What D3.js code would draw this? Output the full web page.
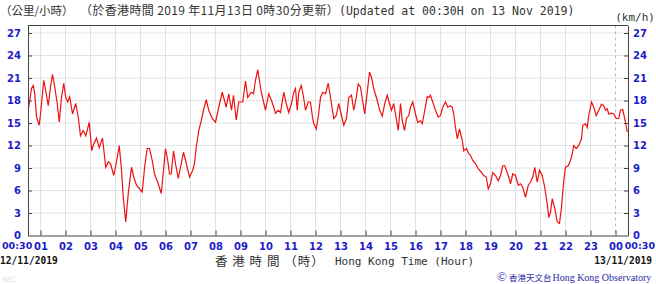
<!doctype html>
<html>
<head>
<meta charset="utf-8">
<title>Hong Kong wind speed 12-13 Nov 2019</title>
<script src="https://d3js.org/d3.v7.min.js"></script>
<style>
  body { margin: 0; background: #fff; }
  svg { display: block; }
</style>
</head>
<body>
<svg id="chart" width="656" height="284"></svg>
<script>
// Data: clock hour (0.5 = 00:30 on 12/11, 24.5 = 00:30 on 13/11) and speed (km/h)
const hours = [
  0.51, 0.64, 0.71, 0.77, 0.84, 0.95, 1.00, 1.13, 1.21, 1.31, 1.40, 1.48, 1.57, 1.67, 1.75, 1.84, 1.93,
  2.01, 2.09, 2.17, 2.28, 2.41, 2.51, 2.60, 2.71, 2.81, 2.95, 3.05, 3.13, 3.24, 3.35, 3.48, 3.61, 3.71,
  3.80, 3.93, 4.07, 4.15, 4.24, 4.31, 4.41, 4.51, 4.64, 4.73, 4.84, 4.97, 5.07, 5.17, 5.27, 5.36, 5.47,
  5.56, 5.69, 5.83, 5.92, 6.00, 6.09, 6.16, 6.23, 6.32, 6.40, 6.51, 6.63, 6.72, 6.83, 6.96, 7.09, 7.16,
  7.23, 7.33, 7.43, 7.52, 7.63, 7.73, 7.87, 8.00, 8.13, 8.27, 8.36, 8.43, 8.53, 8.64, 8.72, 8.83, 8.93,
  9.09, 9.20, 9.29, 9.43, 9.52, 9.60, 9.69, 9.83, 10.00, 10.13, 10.24, 10.33, 10.40, 10.51, 10.60, 10.73,
  10.83, 10.93, 11.04, 11.13, 11.20, 11.27, 11.33, 11.43, 11.51, 11.60, 11.71, 11.80, 11.87, 11.93, 12.03,
  12.11, 12.20, 12.29, 12.40, 12.51, 12.60, 12.73, 12.83, 12.93, 13.04, 13.13, 13.24, 13.33, 13.44, 13.53,
  13.63, 13.71, 13.80, 13.89, 13.97, 14.07, 14.16, 14.24, 14.33, 14.47, 14.57, 14.67, 14.77, 14.87, 14.96,
  15.04, 15.13, 15.23, 15.31, 15.40, 15.47, 15.56, 15.64, 15.73, 15.80, 15.89, 16.00, 16.09, 16.20, 16.27,
  16.37, 16.47, 16.53, 16.60, 16.71, 16.80, 16.91, 17.00, 17.09, 17.20, 17.29, 17.40, 17.47, 17.53, 17.60,
  17.67, 17.76, 17.87, 17.93, 18.04, 18.13, 18.20, 18.29, 18.40, 18.51, 18.64, 18.73, 18.83, 18.91, 19.00,
  19.09, 19.20, 19.31, 19.40, 19.49, 19.57, 19.71, 19.80, 19.89, 20.00, 20.11, 20.20, 20.29, 20.40, 20.51,
  20.60, 20.69, 20.77, 20.87, 20.96, 21.07, 21.17, 21.27, 21.33, 21.40, 21.47, 21.57, 21.67, 21.76, 21.84,
  21.93, 22.00, 22.11, 22.20, 22.27, 22.33, 22.43, 22.53, 22.64, 22.69, 22.80, 22.87, 22.93, 23.04, 23.13,
  23.23, 23.33, 23.44, 23.53, 23.60, 23.67, 23.73, 23.84, 23.93, 24.03, 24.13, 24.20, 24.29, 24.40, 24.47
];
const speeds = [
  16.7, 19.6, 20.0, 18.9, 15.8, 14.7, 16.2, 20.7, 19.3, 17.3, 19.8, 21.5, 19.8, 17.6, 15.1, 18.4, 20.3,
  18.4, 17.8, 18.5, 16.2, 17.6, 15.8, 13.3, 14.0, 13.3, 15.1, 11.3, 12.2, 13.0, 11.7, 13.0, 9.1, 9.8,
  9.6, 8.0, 10.4, 12.0, 8.7, 5.1, 1.8, 5.6, 9.1, 7.8, 6.7, 6.2, 5.8, 9.3, 11.6, 11.6, 10.0,
  8.2, 7.1, 5.6, 8.7, 11.6, 10.0, 8.2, 8.2, 11.3, 9.6, 7.6, 9.6, 11.1, 9.6, 7.8, 8.7, 9.6,
  11.8, 14.0, 15.3, 16.7, 18.1, 16.7, 15.6, 15.1, 17.1, 19.1, 18.0, 17.1, 18.9, 16.7, 18.7, 15.4, 17.8,
  17.8, 20.6, 18.4, 19.1, 18.9, 20.7, 22.1, 19.1, 16.7, 18.9, 18.0, 17.1, 16.3, 16.7, 16.4, 19.1,
  17.6, 16.4, 17.6, 19.1, 19.6, 16.7, 19.1, 20.0, 18.7, 16.7, 17.8, 17.8, 16.0, 14.9, 14.2,
  15.8, 18.4, 19.1, 18.9, 20.3, 18.4, 15.6, 16.0, 17.6, 16.0, 14.7, 15.6, 18.4, 18.7, 16.7,
  18.4, 20.2, 19.8, 17.8, 16.2, 19.1, 21.8, 21.1, 19.6, 18.0, 16.7, 15.9, 17.6, 18.7, 17.6,
  16.7, 17.6, 15.6, 14.0, 17.6, 15.3, 14.0, 15.6, 16.0, 17.1, 17.8, 16.2, 15.1, 15.3, 14.9,
  16.7, 18.5, 18.4, 18.7, 17.6, 16.7, 15.8, 16.0, 17.1, 17.8, 17.1, 17.3, 17.1, 16.2, 14.4,
  12.9, 14.2, 12.7, 11.3, 11.6, 10.9, 10.7, 10.0, 9.6, 8.9, 8.4, 8.0, 7.8, 6.2, 6.9,
  8.4, 8.0, 7.3, 8.0, 9.3, 9.3, 8.0, 6.9, 8.2, 8.0, 6.7, 6.9, 6.4, 5.1, 6.7,
  7.1, 7.8, 9.1, 7.1, 8.7, 8.0, 6.4, 4.2, 2.4, 3.1, 4.9, 3.6, 1.8, 1.6, 3.8,
  7.3, 9.1, 9.3, 10.0, 10.9, 12.0, 11.6, 12.0, 12.9, 14.7, 14.9, 14.4, 16.0, 17.8, 17.1,
  16.0, 16.7, 17.5, 17.3, 16.7, 16.9, 16.2, 16.3, 16.2, 15.6, 15.6, 16.7, 16.8, 15.1, 13.8
];
const hourTicks = d3.range(1, 25);          // 01 .. 23, 00
const speedTicks = d3.range(0, 28, 3);      // 0 .. 27
const blue = "#1c1cc8";

const svg = d3.select("#chart");

const x = d3.scaleLinear().domain([0.5, 24.5]).range([28, 628]);
const y = d3.scaleLinear().domain([0, 28]).range([235.5, 25.5]);

// grid
svg.append("g")
  .selectAll("line")
  .data(speedTicks.filter(d => d > 0))
  .join("line")
    .attr("x1", x(0.5)).attr("x2", x(24.5))
    .attr("y1", d => y(d)).attr("y2", d => y(d))
    .attr("stroke", "#e2e2e2");

svg.append("g")
  .selectAll("line")
  .data(hourTicks)
  .join("line")
    .attr("x1", d => x(d)).attr("x2", d => x(d))
    .attr("y1", y(28)).attr("y2", y(0))
    .attr("stroke", d => d == 24 ? "#bbb" : "#e2e2e2")
    .attr("stroke-dasharray", d => d == 24 ? "3,3" : null);

// the wind line
const line = d3.line()
  .x((d, i) => x(hours[i]))
  .y(d => y(d));

svg.append("path")
  .datum(speeds)
  .attr("d", line)
  .attr("fill", "none")
  .attr("stroke", "#ee1111")
  .attr("stroke-width", 1.2);

// axes
const leftAxis = d3.axisLeft(y).tickValues(speedTicks).tickSizeInner(-4).tickSizeOuter(0).tickPadding(7);
const rightAxis = d3.axisRight(y).tickValues(speedTicks).tickSizeInner(-4).tickSizeOuter(0).tickPadding(5);
const bottomAxis = d3.axisBottom(x).tickValues(hourTicks).tickSizeInner(-5).tickSizeOuter(0).tickPadding(7)
  .tickFormat(d => d == 24 ? "00" : d3.format("02")(d));

function styleAxis(g) {
  g.select(".domain").attr("stroke", "#444");
  g.selectAll(".tick line").attr("stroke", "#444");
  g.selectAll(".tick text")
    .attr("fill", blue)
    .style("font-family", "'DejaVu Sans', sans-serif")
    .style("font-weight", "bold")
    .style("font-size", "10px");
}

svg.append("g").attr("transform", `translate(${x(0.5)},0)`).call(leftAxis).call(styleAxis)
  .selectAll(".tick").filter(d => d == 0).select("line").remove();
svg.append("g").attr("transform", `translate(${x(24.5)},0)`).call(rightAxis).call(styleAxis)
  .selectAll(".tick").filter(d => d == 0).select("line").remove();
svg.append("g").attr("transform", `translate(0,${y(0)})`).call(bottomAxis).call(styleAxis);

// frame top
svg.append("line")
  .attr("x1", x(0.5)).attr("x2", x(24.5))
  .attr("y1", y(28)).attr("y2", y(28))
  .attr("stroke", "#444");

// 00:30 labels at both ends
svg.append("text").attr("x", 2).attr("y", 249)
  .attr("fill", blue).style("font-family", "'DejaVu Sans', sans-serif")
  .style("font-weight", "bold").style("font-size", "9.5px").text("00:30");
svg.append("text").attr("x", 655).attr("y", 249).attr("text-anchor", "end")
  .attr("fill", blue).style("font-family", "'DejaVu Sans', sans-serif")
  .style("font-weight", "bold").style("font-size", "9.5px").text("00:30");

// titles
svg.append("text").attr("x", 0).attr("y", 15)
  .attr("fill", "#333").style("font-family", "'Noto Sans CJK TC'").style("font-size", "11.5px")
  .text("（公里/小時）");
svg.append("text").attr("x", 80).attr("y", 15)
  .attr("fill", "#333").style("font-family", "'Noto Sans CJK TC'").style("font-size", "12px")
  .style("letter-spacing", "0.35px")
  .text("（於香港時間 2019 年11月13日 0時30分更新）");
svg.append("text").attr("x", 339).attr("y", 15)
  .attr("fill", "#333").style("font-family", "'DejaVu Sans Mono', monospace").style("font-size", "11.5px")
  .text("(Updated at 00:30H on 13 Nov 2019)");
svg.append("text").attr("x", 655).attr("y", 21).attr("text-anchor", "end")
  .attr("fill", "#333").style("font-family", "'DejaVu Sans Mono', monospace").style("font-size", "11px")
  .text("(km/h)");

// bottom labels
svg.append("text").attr("x", 0).attr("y", 264)
  .attr("fill", "#111").style("font-family", "'DejaVu Sans Mono', monospace")
  .style("font-weight", "bold").style("font-size", "9.6px").text("12/11/2019");
svg.append("text").attr("x", 652).attr("y", 264).attr("text-anchor", "end")
  .attr("fill", "#111").style("font-family", "'DejaVu Sans Mono', monospace")
  .style("font-weight", "bold").style("font-size", "9.6px").text("13/11/2019");
svg.append("text").attr("x", 215).attr("y", 266)
  .attr("fill", "#333").style("font-family", "'Noto Sans CJK TC'").style("font-size", "12.5px")
  .style("letter-spacing", "1px")
  .text("香 港 時 間 （時）");
svg.append("text").attr("x", 335).attr("y", 265)
  .attr("fill", "#333").style("font-family", "'DejaVu Sans Mono', monospace").style("font-size", "11px")
  .text("Hong Kong Time (Hour)");

// credit
svg.append("text").attr("x", 497).attr("y", 281)
  .attr("fill", "#2a2aa8").style("font-family", "'Liberation Serif', serif").style("font-size", "10px")
  .html('<tspan style="font-size:13px">©</tspan><tspan style="font-family:\'Noto Sans CJK TC\';font-size:8.5px" dx="2">香港天文台</tspan><tspan dx="1">Hong Kong Observatory</tspan>');
svg.append("text").attr("x", 2).attr("y", 282)
  .attr("fill", "#ddd").style("font-family", "'DejaVu Sans', sans-serif").style("font-size", "7px")
  .text("SEC");
</script>
</body>
</html>
